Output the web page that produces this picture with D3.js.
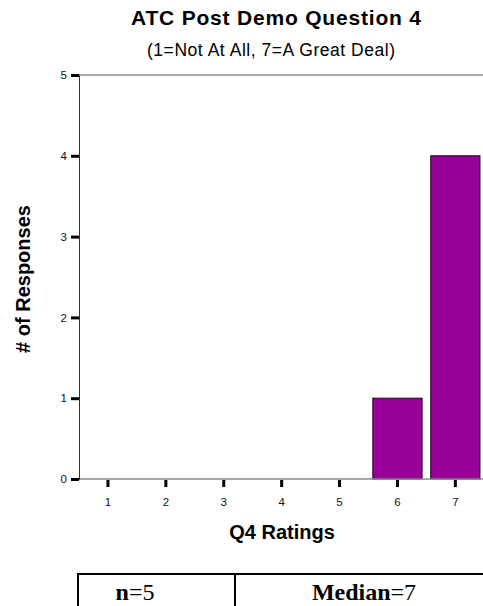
<!DOCTYPE html>
<html>
<head>
<meta charset="utf-8">
<script src="https://cdn.jsdelivr.net/npm/d3@7"></script>
<style>
  html, body { margin: 0; padding: 0; background: #fff; }
  svg { display: block; }
</style>
</head>
<body>
<script>
const categories = ["1", "2", "3", "4", "5", "6", "7"];
const counts = [0, 0, 0, 0, 0, 1, 4];
const yTicks = [0, 1, 2, 3, 4, 5];
const titleText = "ATC Post Demo Question 4";
const subtitleText = "(1=Not At All, 7=A Great Deal)";
const xLabel = "Q4 Ratings";
const yLabel = "# of Responses";
const tableCells = [["n", "=5"], ["Median", "=7"]];

const W = 483, H = 606;
const svg = d3.select("body").append("svg").attr("width", W).attr("height", H);
const sans = "'Liberation Sans', Arial, sans-serif";
const serif = "'Liberation Serif', 'Times New Roman', serif";

const x = d3.scaleBand().domain(categories).range([79, 484.3]).paddingInner(0.15).paddingOuter(0.075);
const y = d3.scaleLinear().domain([0, 5]).range([479, 75]);

// top frame line
svg.append("line").attr("x1", 79).attr("x2", W).attr("y1", y(5)).attr("y2", y(5))
  .attr("stroke", "#8c8c8c").attr("stroke-width", 1.5);

// bars
svg.append("g").selectAll("rect").data(categories.map((c, i) => ({c, v: counts[i]})).filter(d => d.v > 0))
  .join("rect")
  .attr("x", d => x(d.c)).attr("width", x.bandwidth())
  .attr("y", d => y(d.v)).attr("height", d => y(0) - y(d.v))
  .attr("fill", "#990099").attr("stroke", "#1a001a").attr("stroke-width", 1);

// bottom axis line
svg.append("line").attr("x1", 79).attr("x2", W).attr("y1", y(0)).attr("y2", y(0))
  .attr("stroke", "#8c8c8c").attr("stroke-width", 1.5);

// y axis
const yAxis = svg.append("g").attr("transform", "translate(79,0)")
  .call(d3.axisLeft(y).tickValues(yTicks).tickFormat(d3.format("d")).tickSize(8).tickPadding(4));
yAxis.select(".domain").attr("stroke", "#333").attr("stroke-width", 1);
yAxis.selectAll(".tick line").attr("stroke", "#000").attr("stroke-width", 3);
yAxis.selectAll(".tick text").style("font-family", sans).style("font-size", "11.5px").style("fill", "#111");

// x axis
const xAxis = svg.append("g").attr("transform", `translate(0,${y(0) + 1})`)
  .call(d3.axisBottom(x).tickSize(7).tickPadding(11));
xAxis.select(".domain").remove();
xAxis.selectAll(".tick line").attr("stroke", "#000").attr("stroke-width", 3);
xAxis.selectAll(".tick text").style("font-family", sans).style("font-size", "11.5px").style("fill", "#111");

// titles
svg.append("text").attr("x", 276).attr("y", 24.5).attr("text-anchor", "middle")
  .attr("font-family", sans).attr("font-weight", "bold").attr("font-size", 21)
  .attr("textLength", 290).text(titleText);
svg.append("text").attr("x", 271).attr("y", 56).attr("text-anchor", "middle")
  .attr("font-family", sans).attr("font-size", 17.5)
  .attr("textLength", 248).text(subtitleText);

// axis labels
svg.append("text").attr("x", 282).attr("y", 539).attr("text-anchor", "middle")
  .attr("font-family", sans).attr("font-weight", "bold").attr("font-size", 20).text(xLabel);
svg.append("text").attr("transform", "translate(30,279) rotate(-90)").attr("text-anchor", "middle")
  .attr("font-family", sans).attr("font-weight", "bold").attr("font-size", 20).text(yLabel);

// table
const tbl = svg.append("g");
tbl.append("line").attr("x1", 77).attr("x2", W).attr("y1", 574).attr("y2", 574).attr("stroke", "#000").attr("stroke-width", 2);
[78, 235].forEach(xx => tbl.append("line").attr("x1", xx).attr("x2", xx).attr("y1", 573).attr("y2", H).attr("stroke", "#000").attr("stroke-width", 2));
const centers = [135, 364];
tableCells.forEach((cell, i) => {
  const t = tbl.append("text").attr("x", centers[i]).attr("y", 600).attr("text-anchor", "middle")
    .attr("font-family", serif).attr("font-size", 24).attr("fill", "#000");
  t.append("tspan").attr("font-weight", "bold").text(cell[0]);
  t.append("tspan").text(cell[1]);
});
</script>
</body>
</html>
